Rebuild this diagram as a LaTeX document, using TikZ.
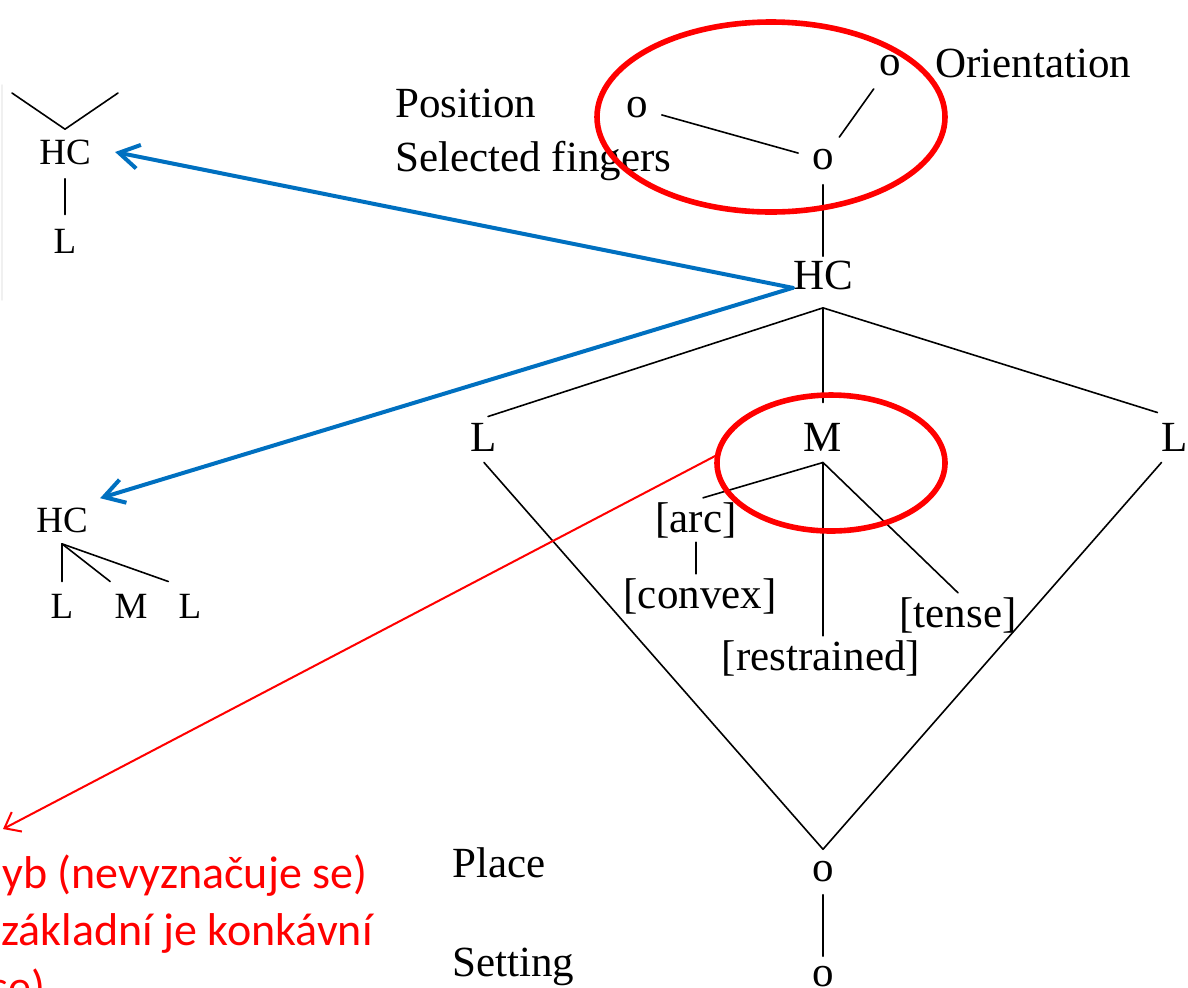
\documentclass[tikz,border=0pt]{standalone}
\usepackage{fontspec}
\setmainfont{Liberation Serif}
\newfontfamily\calibfont{Carlito}
\usetikzlibrary{arrows.meta}
\definecolor{slideblue}{RGB}{0,112,192}

\begin{document}
\begin{tikzpicture}[line cap=round,line join=round,x=0.5pt,y=-0.5pt,
  lab/.style={inner sep=2pt,font=\fontsize{21.5}{26}\selectfont},
  sml/.style={inner sep=2pt,font=\fontsize{18.5}{22}\selectfont},
  tie/.style={line width=0.8pt},
  ring/.style={draw=red,line width=2.8pt},
  pointer/.style={draw=slideblue,line width=2pt,-{Straight Barb[length=10pt,width=12pt,line width=2pt]}},
  redptr/.style={draw=red,line width=1pt,-{Straight Barb[length=7pt,width=11pt,line width=1pt]}},
  note/.style={anchor=base west,inner sep=0pt,text=red,font=\calibfont\fontsize{23}{28}\selectfont}]
\useasboundingbox (0,0) rectangle (1188,987);
\clip (0,0) rectangle (1188,987);
\draw[gray!12,line width=0.8pt] (2,85) -- (2,300);
% labels of the tiers
\node[lab,anchor=base west] (postxt) at (391,117) {Position};
\node[lab,anchor=base west] (sftxt) at (391,171) {Selected fingers};
\node[lab,anchor=base west] (oritxt) at (931,77) {Orientation};
\node[lab,anchor=base west] (plctxt) at (448,877) {Place};
\node[lab,anchor=base west] (settxt) at (448,976) {Setting};
% main tree
\node[lab] (pos) at (637,108) {o};
\node[lab] (ori) at (890,66) {o};
\node[lab] (sf) at (823,160) {o};
\node[lab] (hc) at (823,275) {HC};
\node[lab] (ll) at (484,437) {L};
\node[lab] (mm) at (823,437) {M};
\node[lab] (lr) at (1175,437) {L};
\node[lab] (arc) at (696,520) {[arc]};
\node[lab] (cvx) at (700,596) {[convex]};
\node[lab] (rst) at (821,658) {[restrained]};
\node[lab] (tns) at (958,615) {[tense]};
\node[lab] (plc) at (823,872) {o};
\node[lab] (set) at (823,977) {o};
\draw[tie,shorten <=5pt,shorten >=5pt] (pos) -- (sf);
\draw[tie,shorten <=5pt,shorten >=5pt] (sf) -- (ori);
\draw[tie,shorten <=5pt] (sf) -- (hc);
\coordinate (hcv) at ([yshift=-7pt]hc.south);
\draw[tie] ([xshift=2pt,yshift=1pt]ll.north) -- (hcv) -- ([yshift=3pt]lr.north west);
\draw[tie] (hcv) -- ([yshift=8pt]mm.north);
\coordinate (mv) at ([yshift=-3.5pt]mm.south);
\draw[tie] ([xshift=3.5pt]arc.north) -- (mv) -- (tns.north);
\draw[tie] (mv) -- (mv |- rst.north);
\draw[tie] (arc.south) -- (arc.south |- cvx.north);
\coordinate (pv) at ([yshift=4pt]plc.north);
\draw[tie] ([yshift=-3.5pt]ll.south) -- (pv) -- ([xshift=2pt,yshift=-3.5pt]lr.south west);
\draw[tie,shorten <=4pt,shorten >=3pt] (plc) -- (set);
% small trees on the left
\node[sml] (hc1) at (65,152) {HC};
\node[sml] (l1) at (65,241) {L};
\coordinate (hv1) at ([yshift=3pt]hc1.north);
\coordinate (lw1) at (12,93);
\coordinate (rw1) at (118,93);
\draw[tie] (lw1) -- (hv1) -- (rw1);
\draw[tie,shorten <=5pt,shorten >=5pt] (hc1) -- (l1);
\node[sml] (hc2) at (62,520) {HC};
\node[sml] (l2a) at (62,606) {L};
\node[sml] (m2) at (131,606) {M};
\node[sml] (l2b) at (190,606) {L};
\coordinate (hv2) at ([yshift=-3.5pt]hc2.south);
\draw[tie] (hv2) -- ([yshift=4pt]l2a.north);
\draw[tie] (hv2) -- ([yshift=4pt]m2.north west);
\draw[tie] (hv2) -- ([shift={(-3pt,4pt)}]l2b.north west);
% blue arrows
\coordinate (bs) at ([xshift=2pt,yshift=3pt]hc.south west);
\draw[pointer] (bs) -- ([xshift=10pt]hc1.east);
\draw[pointer] (bs) -- ([shift={(4pt,2.5pt)}]hc2.north east);
% red marks
\coordinate (tring) at (771,117);
\coordinate (mring) at (831,463);
\draw[ring] (tring) ellipse [x radius=87pt,y radius=47.5pt];
\draw[ring] (mring) ellipse [x radius=57pt,y radius=34pt];
\coordinate (tip) at (3,829);
\draw[redptr] ([shift={(-57pt,4pt)}]mring) -- (tip);
\node[note] (n1) at (2,888) {yb (nevyznačuje se)};
\node[note] (n2) at (1,945) {základní je konkávní};
\node[note] (n3) at (-10,1002) {se)};
\end{tikzpicture}
\end{document}
